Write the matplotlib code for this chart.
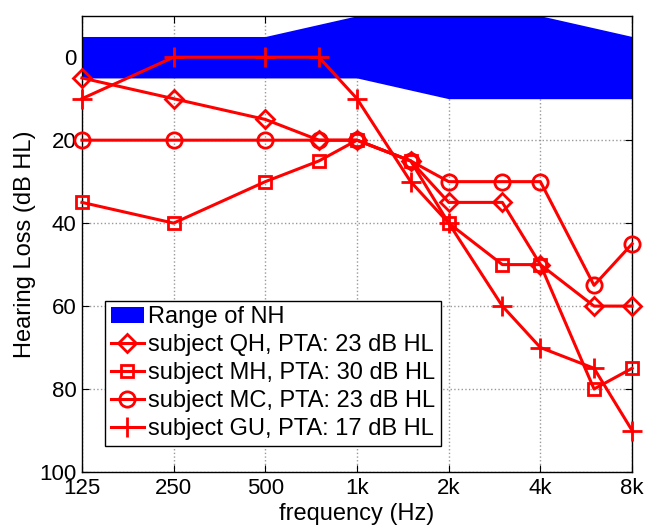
import numpy as np
import matplotlib
matplotlib.use("Agg")
import matplotlib.pyplot as plt

plt.rcParams["font.family"] = ["Liberation Sans", "DejaVu Sans"]

freqs = [125, 250, 500, 750, 1000, 1500, 2000, 3000, 4000, 6000, 8000]

# normal hearing range (upper / lower edge)
nh_freqs = [125, 250, 500, 1000, 2000, 4000, 8000]
nh_top = [-5, -5, -5, -10, -10, -10, -5]
nh_bottom = [5, 5, 5, 5, 10, 10, 10]

qh = [5, 10, 15, 20, 20, 25, 35, 35, 50, 60, 60]
mh = [35, 40, 30, 25, 20, 25, 40, 50, 50, 80, 75]
mc = [20, 20, 20, 20, 20, 25, 30, 30, 30, 55, 45]
gu = [10, 0, 0, 0, 10, 30, 40, 60, 70, 75, 90]

labels = ["subject QH, PTA: 23 dB HL", "subject MH, PTA: 30 dB HL",
          "subject MC, PTA: 23 dB HL", "subject GU, PTA: 17 dB HL"]
markers = ["D", "s", "o", "+"]
msizes = [9, 9, 11, 14]

tick_freqs = [125, 250, 500, 1000, 2000, 4000, 8000]
tick_labels = ["125", "250", "500", "1k", "2k", "4k", "8k"]

fig = plt.figure(figsize=(6.45, 5.25), dpi=100)
ax = fig.add_axes([0.127, 0.101, 0.853, 0.869])

ax.fill_between(nh_freqs, nh_top, nh_bottom, color="#0000ff", lw=0, label="Range of NH")

for ys, lab, m, ms in zip([qh, mh, mc, gu], labels, markers, msizes):
    ax.plot(freqs, ys, color="#ff0000", lw=2.2, marker=m, markersize=ms,
            markerfacecolor="none", markeredgewidth=2, label=lab, clip_on=False, zorder=3)

ax.set_xscale("log")
ax.set_xlim(125, 8000)
ax.set_ylim(100, -10)
ax.set_xticks(tick_freqs)
ax.set_xticklabels(tick_labels)
ax.minorticks_off()
ax.set_yticks([0, 20, 40, 60, 80, 100])
ax.tick_params(direction="in", length=5, labelsize=16, top=True, right=True, pad=4)
ax.grid(True, color="#999999", ls=":", lw=1)
ax.set_axisbelow(True)
for s in ax.spines.values():
    s.set_linewidth(1)

ax.set_xlabel("frequency (Hz)", fontsize=17, labelpad=3)
ax.set_ylabel("Hearing Loss (dB HL)", fontsize=17, labelpad=2)

leg = ax.legend(loc="lower left", bbox_to_anchor=(0.042, 0.057), fontsize=17,
                fancybox=False, edgecolor="black", framealpha=1,
                handlelength=1.4, handletextpad=0.15, borderpad=0.25, labelspacing=0.25,
                borderaxespad=0)
leg.get_frame().set_linewidth(1)

fig.savefig("out.png", dpi=100)
